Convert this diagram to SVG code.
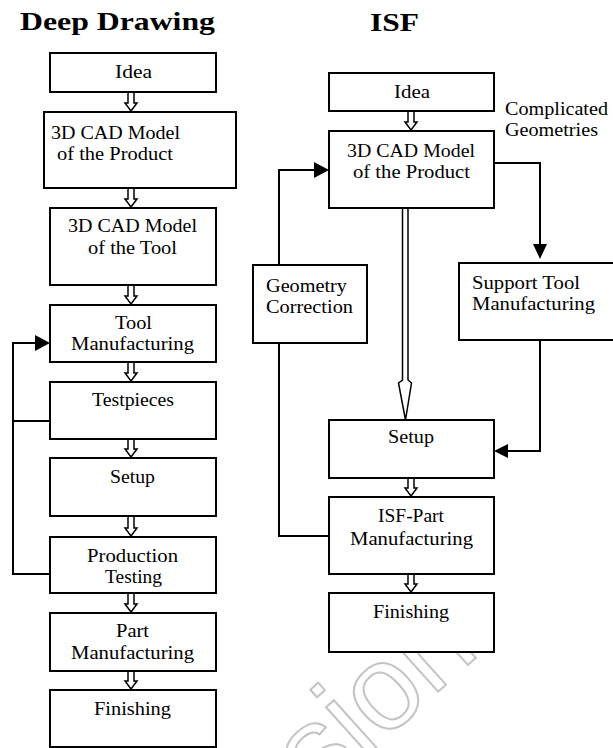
<svg xmlns="http://www.w3.org/2000/svg" width="613" height="748" viewBox="0 0 613 748">
<style>
.box{fill:#fff;stroke:#000;stroke-width:2}
.t{font-family:"Liberation Serif","Times New Roman",serif;font-size:19px;fill:#000}
.h{font-family:"Liberation Serif","Times New Roman",serif;font-size:26px;font-weight:bold;fill:#000}
.ln{fill:none;stroke:#000;stroke-width:2}
.hd{fill:#000;stroke:none}
.da{fill:#fff;stroke:#000;stroke-width:1.5;stroke-linejoin:miter}
.wm{font-family:"Liberation Sans",Arial,sans-serif;font-size:120px;fill:none;stroke:#c4c4c4;stroke-width:2}
</style>
<rect width="613" height="748" fill="#fff"/>
<g id="watermark"><text class="wm" transform="translate(318,800) rotate(-42)">sion</text></g>
<g id="titles">
<text class="h" x="20" y="30" textLength="195" lengthAdjust="spacingAndGlyphs">Deep Drawing</text>
<text class="h" x="370" y="31" textLength="49" lengthAdjust="spacingAndGlyphs">ISF</text>
</g>
<g id="connectors">
<path class="ln" d="M50,574 H13 V343 H36"/>
<polygon class="hd" points="35,335 50,343 35,351"/>
<path class="ln" d="M13,421 H50"/>
<path class="ln" d="M329,536 H279 V170 H315"/>
<polygon class="hd" points="314,162 329,170 314,178"/>
<path class="ln" d="M494,163 H540 V245"/>
<polygon class="hd" points="533,244 547,244 540,259"/>
<path class="ln" d="M540,340 V451 H507"/>
<polygon class="hd" points="508,444 494,451 508,458"/>
<path class="da" d="M402.5,209 V380 L398.5,383 L405.5,420 L411.5,383 L408,380 V209"/>
<path class="da" d="M128,93 V103 H125 L131,111 L137,103 H134 V93"/>
<path class="da" d="M128,189 V199 H125 L131,207 L137,199 H134 V189"/>
<path class="da" d="M128,286 V296 H125 L131,304 L137,296 H134 V286"/>
<path class="da" d="M128,363 V373 H125 L131,381 L137,373 H134 V363"/>
<path class="da" d="M128,440 V449 H125 L131,457 L137,449 H134 V440"/>
<path class="da" d="M128,517 V528 H125 L131,536 L137,528 H134 V517"/>
<path class="da" d="M128,594 V604 H125 L131,612 L137,604 H134 V594"/>
<path class="da" d="M128,672 V681 H125 L131,689 L137,681 H134 V672"/>
<path class="da" d="M408,112 V122 H405 L411,130 L417,122 H414 V112"/>
<path class="da" d="M408,479 V488 H405 L411,496 L417,488 H414 V479"/>
<path class="da" d="M408,575 V584 H405 L411,592 L417,584 H414 V575"/>
</g>
<g id="dd-idea"><rect class="box" x="50" y="53" width="166" height="39"/><text class="t" x="115" y="78" textLength="37" lengthAdjust="spacingAndGlyphs">Idea</text></g>
<g id="dd-cad-product"><rect class="box" x="44" y="112" width="192" height="76"/><text class="t" x="51" y="139" textLength="129" lengthAdjust="spacingAndGlyphs">3D CAD Model</text><text class="t" x="57" y="160" textLength="116" lengthAdjust="spacingAndGlyphs">of the Product</text></g>
<g id="dd-cad-tool"><rect class="box" x="50" y="208" width="166" height="77"/><text class="t" x="68" y="232" textLength="129" lengthAdjust="spacingAndGlyphs">3D CAD Model</text><text class="t" x="88" y="254" textLength="89" lengthAdjust="spacingAndGlyphs">of the Tool</text></g>
<g id="dd-tool-manufacturing"><rect class="box" x="50" y="305" width="166" height="57"/><text class="t" x="115" y="329" textLength="37" lengthAdjust="spacingAndGlyphs">Tool</text><text class="t" x="71" y="350" textLength="123" lengthAdjust="spacingAndGlyphs">Manufacturing</text></g>
<g id="dd-testpieces"><rect class="box" x="50" y="382" width="166" height="57"/><text class="t" x="92" y="406" textLength="82" lengthAdjust="spacingAndGlyphs">Testpieces</text></g>
<g id="dd-setup"><rect class="box" x="50" y="458" width="166" height="58"/><text class="t" x="110" y="483" textLength="45" lengthAdjust="spacingAndGlyphs">Setup</text></g>
<g id="dd-production-testing"><rect class="box" x="50" y="537" width="166" height="56"/><text class="t" x="87" y="562" textLength="91" lengthAdjust="spacingAndGlyphs">Production</text><text class="t" x="105" y="583" textLength="57" lengthAdjust="spacingAndGlyphs">Testing</text></g>
<g id="dd-part-manufacturing"><rect class="box" x="50" y="613" width="166" height="58"/><text class="t" x="116" y="637" textLength="33" lengthAdjust="spacingAndGlyphs">Part</text><text class="t" x="71" y="659" textLength="123" lengthAdjust="spacingAndGlyphs">Manufacturing</text></g>
<g id="dd-finishing"><rect class="box" x="50" y="690" width="166" height="57"/><text class="t" x="94" y="715" textLength="77" lengthAdjust="spacingAndGlyphs">Finishing</text></g>
<g id="isf-idea"><rect class="box" x="329" y="73" width="165" height="38"/><text class="t" x="394" y="98" textLength="36" lengthAdjust="spacingAndGlyphs">Idea</text></g>
<g id="isf-complicated-label"><text class="t" x="505" y="115" textLength="103" lengthAdjust="spacingAndGlyphs">Complicated</text><text class="t" x="505" y="136" textLength="93" lengthAdjust="spacingAndGlyphs">Geometries</text></g>
<g id="isf-cad-product"><rect class="box" x="329" y="131" width="165" height="77"/><text class="t" x="347" y="157" textLength="128" lengthAdjust="spacingAndGlyphs">3D CAD Model</text><text class="t" x="353" y="178" textLength="117" lengthAdjust="spacingAndGlyphs">of the Product</text></g>
<g id="isf-geometry-correction"><rect class="box" x="253" y="265" width="114" height="78"/><text class="t" x="266" y="292" textLength="81" lengthAdjust="spacingAndGlyphs">Geometry</text><text class="t" x="266" y="313" textLength="87" lengthAdjust="spacingAndGlyphs">Correction</text></g>
<g id="isf-support-tool"><rect class="box" x="459" y="263" width="170" height="77"/><text class="t" x="472" y="289" textLength="108" lengthAdjust="spacingAndGlyphs">Support Tool</text><text class="t" x="472" y="310" textLength="123" lengthAdjust="spacingAndGlyphs">Manufacturing</text></g>
<g id="isf-setup"><rect class="box" x="329" y="420" width="165" height="58"/><text class="t" x="388" y="443" textLength="46" lengthAdjust="spacingAndGlyphs">Setup</text></g>
<g id="isf-part-manufacturing"><rect class="box" x="329" y="497" width="165" height="77"/><text class="t" x="378" y="522" textLength="66" lengthAdjust="spacingAndGlyphs">ISF-Part</text><text class="t" x="350" y="545" textLength="123" lengthAdjust="spacingAndGlyphs">Manufacturing</text></g>
<g id="isf-finishing"><rect class="box" x="329" y="593" width="165" height="59"/><text class="t" x="373" y="618" textLength="76" lengthAdjust="spacingAndGlyphs">Finishing</text></g>
</svg>
